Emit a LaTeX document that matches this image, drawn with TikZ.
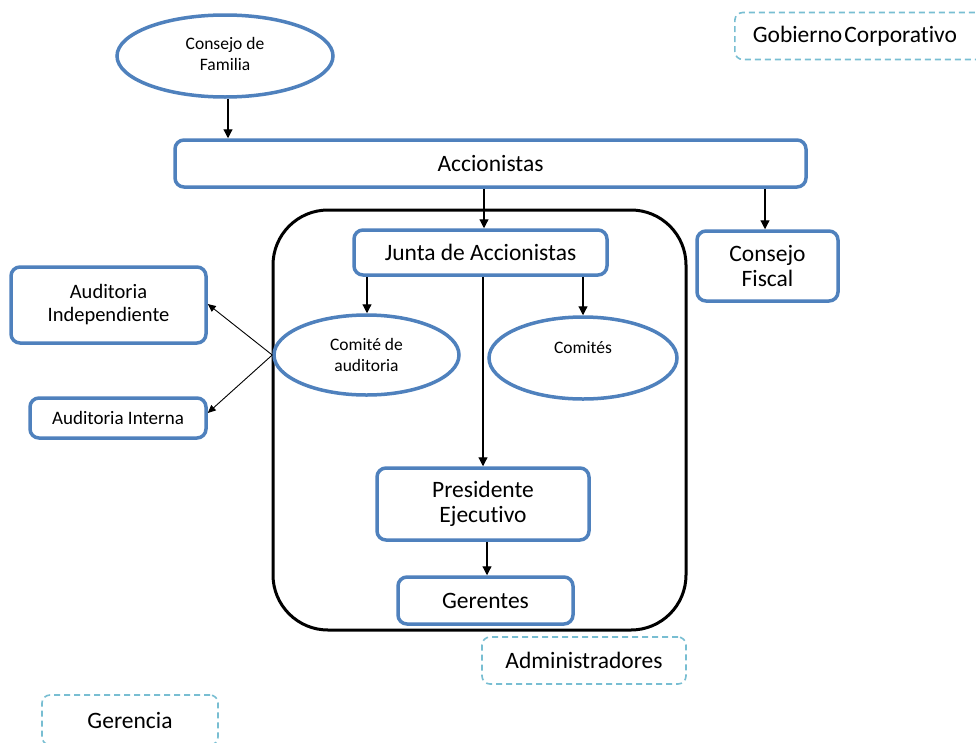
\documentclass[tikz,border=0pt]{standalone}
\usepackage{fontspec}
\setmainfont{Carlito}[Ligatures=CommonOff]
\usetikzlibrary{shapes.geometric,arrows.meta}
\definecolor{bluebd}{RGB}{79,129,189}
\definecolor{dashc}{RGB}{120,190,210}
\begin{document}
\begin{tikzpicture}[x=1pt,y=-1pt,
  bx/.style={draw=bluebd,line width=3.5pt,rounded corners=9pt,fill=white,align=center,inner sep=0pt},
  ell/.style={draw=bluebd,line width=3.5pt,ellipse,fill=white,align=center,inner sep=0pt},
  dbox/.style={draw=dashc,line width=1.6pt,dash pattern=on 6pt off 4pt,rounded corners=8pt,align=center,inner sep=0pt},
  big/.style={font=\fontsize{23.5}{25}\selectfont},
  arr/.style={-{Triangle[length=9pt,width=9pt]},line width=1.2pt},
  arrs/.style={-{Triangle[length=8pt,width=7pt]},line width=0.9pt}]
\useasboundingbox (0,0) rectangle (976,742);
\fill[white] (0,0) rectangle (976,742);
% big frame
\draw[line width=3pt,rounded corners=55pt] (273,210) rectangle (686,630);
% nodes
\node[ell,minimum width=216pt,minimum height=82pt,font=\fontsize{17.5}{21}\selectfont] (fam) at (225,56) {\raisebox{9pt}{\begin{tabular}{@{}c@{}}Consejo de\\Familia\end{tabular}}};
\node[dbox,anchor=west,minimum height=47pt,text width=242pt,align=left,inner xsep=18pt,font=\fontsize{23.5}{25}\selectfont] (gob) at (734,36) {Gobierno\hspace{2pt}Corporativo};
\node[bx,big,minimum width=631pt,minimum height=47pt] (acc) at (490.5,163.5) {Accionistas};
\node[bx,big,minimum width=253pt,minimum height=45pt] (junta) at (480.5,252.5) {Junta de Accionistas};
\node[bx,big,minimum width=141pt,minimum height=70pt] (fis) at (767.5,266) {Consejo\\Fiscal};
\node[bx,minimum width=195pt,minimum height=76pt,font=\fontsize{20.5}{23}\selectfont] (aind) at (108.5,305) {Auditoria\\Independiente};
\node[bx,minimum width=176pt,minimum height=40pt,font=\fontsize{19}{22}\selectfont] (aint) at (118,418) {Auditoria Interna};
\node[ell,minimum width=185pt,minimum height=80pt,font=\fontsize{17.5}{20.5}\selectfont] (cau) at (366.5,355) {Comité de\\auditoria};
\node[ell,minimum width=188pt,minimum height=82pt,font=\fontsize{17.5}{20}\selectfont] (com) at (583,358) {\raisebox{22pt}{Comités}};
\node[bx,big,minimum width=212pt,minimum height=72pt] (pres) at (483,504) {Presidente\\Ejecutivo};
\node[bx,big,minimum width=175pt,minimum height=47pt] (ger) at (485.5,600.5) {Gerentes};
\node[dbox,big,minimum width=204pt,minimum height=47pt] (adm) at (584,660.5) {Administradores};
\node[dbox,big,minimum width=176pt,minimum height=50pt] (gcia) at (130,720) {Gerencia};
% connectors
\draw[arr] (fam.south -| 228,0) -- (acc.north -| 228,0);
\draw[arr] (acc.south -| 484,0) -- (junta.north -| 484,0);
\draw[arr] (acc.south -| 765,0) -- (fis.north -| 765,0);
\draw[arr] (junta.south -| 367,0) -- (cau.north -| 367,0);
\draw[arr] (junta.south -| 583,0) -- (com.north -| 583,0);
\draw[arr] (junta.south -| 483,0) -- (pres.north -| 483,0);
\draw[arr] (pres.south -| 487,0) -- (ger.north -| 487,0);
\draw[arrs] (cau.west) -- (aind.east |- 0,304);
\draw[arrs] (cau.west) -- (aint.east |- 0,413);
\end{tikzpicture}
\end{document}
